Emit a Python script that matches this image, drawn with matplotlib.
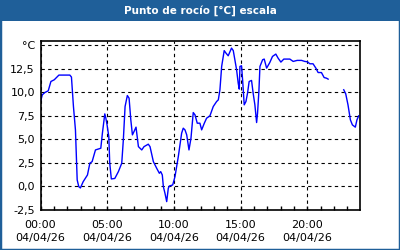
import numpy as np
import matplotlib
matplotlib.use('Agg')
import matplotlib.pyplot as plt
from matplotlib.patches import Rectangle

# Datos (hora del día, punto de rocío en °C)
hours = [0.03, 0.13, 0.33, 0.58, 0.78, 1.03, 1.38, 2.2, 2.32, 2.47, 2.62, 2.75,
         2.87, 2.99, 3.2, 3.52, 3.7, 3.87, 4.12, 4.52, 4.64, 4.82, 4.9, 4.99,
         5.12, 5.19, 5.31, 5.57, 5.84, 6.09, 6.21, 6.34, 6.51, 6.64, 6.77, 6.89,
         7.01, 7.16, 7.34, 7.59, 7.76, 8.08, 8.21, 8.46, 8.71, 8.91, 9.01, 9.13,
         9.21, 9.33, 9.46, 9.58, 9.66, 9.91, 10.08, 10.33, 10.58, 10.7, 10.83,
         10.96, 11.13, 11.28, 11.45, 11.58, 11.75, 11.95, 12.08, 12.28, 12.45,
         12.7, 12.95, 13.2, 13.33, 13.45, 13.58, 13.77, 13.9, 14.07, 14.32,
         14.45, 14.57, 14.7, 14.82, 14.9, 14.95, 15.07, 15.15, 15.27, 15.4,
         15.52, 15.64, 15.82, 15.94, 16.07, 16.2, 16.27, 16.37, 16.45, 16.65,
         16.77, 16.95, 17.19, 17.39, 17.64, 17.81, 18.02, 18.24, 18.69, 18.94,
         19.24, 19.57, 19.81, 20.01, 20.19, 20.43, 20.64, 20.81, 21.06, 21.26,
         21.44, 21.56, 22.1, 22.73, 22.88, 23.05, 23.23, 23.38, 23.6, 23.72,
         23.85]
dew_point = [9.13, 9.73, 9.98, 10.16, 11.15, 11.33, 11.83, 11.83, 11.62, 8.49,
             6.0, 0.69, -0.02, -0.16, 0.51, 1.22, 2.47, 2.64, 3.88, 4.06, 5.66,
             7.71, 7.25, 6.54, 5.3, 2.47, 0.8, 0.85, 1.58, 2.47, 4.95, 8.49,
             9.66, 9.38, 7.07, 5.48, 5.83, 6.3, 4.23, 3.88, 4.23, 4.49, 4.23,
             2.64, 1.93, 1.4, 1.58, 1.22, -0.02, -0.72, -1.61, -0.19, 0.05,
             0.16, 1.04, 3.17, 5.66, 6.19, 6.01, 5.48, 3.88, 5.13, 7.85, 7.61,
             6.72, 6.72, 6.01, 6.72, 7.25, 7.5, 8.49, 9.02, 9.2, 10.27, 12.75,
             14.43, 14.17, 13.88, 14.7, 14.43, 13.46, 12.39, 10.97, 10.34,
             12.75, 12.82, 11.33, 8.67, 9.02, 9.91, 11.15, 11.26, 9.91, 8.67,
             6.79, 7.79, 10.09, 12.75, 13.46, 13.53, 12.57, 13.17, 13.81,
             14.06, 13.63, 13.21, 13.53, 13.53, 13.28, 13.39, 13.39, 13.28,
             13.24, 13.03, 13.03, 12.57, 12.1, 12.1, 11.57, 11.5, 11.4, np.nan,
             10.27, 9.84, 8.67, 7.07, 6.54, 6.3, 7.07, 7.5]

x_ticks = [0, 5, 10, 15, 20]
x_labels = ['00:00\n04/04/26', '05:00\n04/04/26', '10:00\n04/04/26',
            '15:00\n04/04/26', '20:00\n04/04/26']
y_ticks = [-2.5, 0, 2.5, 5, 7.5, 10, 12.5, 15]
y_labels = ['-2,5', '0,0', '2,5', '5,0', '7,5', '10,0', '12,5', '°C']

BLUE = '#1f5f99'
W, H = 400, 250

fig = plt.figure(figsize=(4, 2.5), dpi=100)
fig.patch.set_facecolor('white')

# Barra de título y marco
fig.patches.append(Rectangle((0, 1 - 21 / H), 1, 21 / H, transform=fig.transFigure,
                             facecolor=BLUE, edgecolor='none', zorder=0))
fig.patches.append(Rectangle((0, 0), 1, 1, transform=fig.transFigure,
                             facecolor='none', edgecolor=BLUE, linewidth=2.5,
                             zorder=5))
fig.text(0.5, 1 - 10.5 / H, 'Punto de rocío [°C] escala', color='white',
         fontsize=7.5, fontweight='bold', ha='center', va='center',
         family='DejaVu Sans')

ax = fig.add_axes([40.5 / W, 40 / H, (360 - 40.5) / W, (210 - 41) / H])
ax.plot(hours, dew_point, color='#0000ff', linewidth=1)

ax.set_xlim(0, 23.95)
ax.set_ylim(-2.5, 15.45)
ax.set_xticks(x_ticks)
ax.set_xticklabels(x_labels, fontsize=8, linespacing=1.45)
ax.set_xticks(np.arange(0, 24, 1), minor=True)
ax.set_yticks(y_ticks)
ax.set_yticklabels(y_labels, fontsize=8)

ax.tick_params(axis='x', which='both', direction='in', length=3, width=1,
               pad=7, top=False)
ax.tick_params(axis='y', length=0, pad=4)
ax.grid(True, which='major', color='black', linestyle=(0, (3, 3)),
        linewidth=0.8)
for sp in ax.spines.values():
    sp.set_linewidth(1.2)
    sp.set_color('black')

fig.savefig('out.png', dpi=100)
